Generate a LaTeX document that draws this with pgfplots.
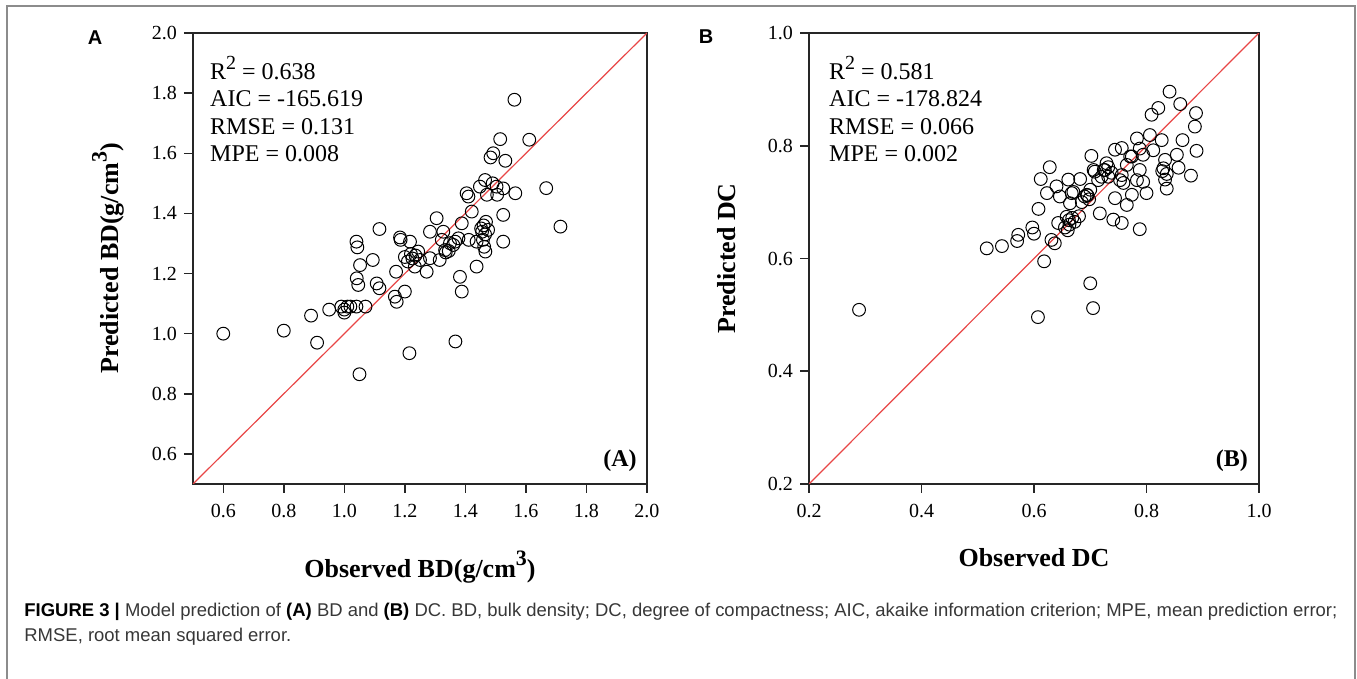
\documentclass[border=0pt]{standalone}
\usepackage{fontspec}
\setmainfont{Liberation Serif}
\newfontfamily\capfont{Liberation Sans}
\usepackage{pgfplots}
\pgfplotsset{compat=1.18}
\definecolor{fitred}{RGB}{232,70,70}
\definecolor{framegray}{RGB}{140,140,140}
\definecolor{captext}{RGB}{55,55,55}
\newsavebox\capboxa
\newlength\capw
\pgfplotsset{
  /pgf/number format/assume math mode=true,
  /pgf/number format/fixed,
  /pgf/number format/fixed zerofill,
  /pgf/number format/precision=1,
  myscatter/.style={
    scale only axis, height=225.5pt,
    axis line style={black!85, line width=0.75pt},
    tick align=outside, tick pos=left,
    major tick length=4.5pt,
    every tick/.style={black!85, line width=0.75pt},
    tick label style={font=\fontsize{10}{12}\selectfont},
    xticklabel style={yshift=-2pt},
    label style={font=\bfseries\fontsize{13}{15}\selectfont},
  },
  circ/.style={only marks, mark=o, mark size=3.2pt, mark options={black, line width=0.5pt}},
  fitline/.style={fitred, line width=0.6pt, no marks},
}
\begin{document}%
\sbox\capboxa{\capfont\fontsize{10}{12}\selectfont \textbf{FIGURE 3 |} Model prediction of \textbf{(A)} BD and \textbf{(B)} DC. BD, bulk density; DC, degree of compactness; AIC, akaike information criterion; MPE, mean prediction error;}%
\setlength\capw{\wd\capboxa}%
\pgfmathsetmacro\capsize{10*656.5/\capw}%
\begin{tikzpicture}[x=0.5pt,y=0.5pt]
\path[use as bounding box] (0,0) rectangle (1357,679);
\draw[framegray, line width=1pt] (7,0) -- (7,673) -- (1355,673) -- (1355,0);

% Panel A
\begin{axis}[myscatter, at={(96.5pt,97.5pt)}, anchor=south west, width=227pt,
  xmin=0.5, xmax=2.0, ymin=0.5, ymax=2.0,
  xtick={0.6,0.8,1.0,1.2,1.4,1.6,1.8,2.0}, ytick={0.6,0.8,1.0,1.2,1.4,1.6,1.8,2.0},
  xlabel={Observed BD(g/cm\raisebox{6pt}{\fontsize{11}{11}\selectfont 3})},
  ylabel={Predicted BD(g/cm\raisebox{6pt}{\fontsize{11}{11}\selectfont 3})},
  xlabel style={at={(axis description cs:0.5,-0.184)}, anchor=center},
  ylabel style={at={(axis description cs:-0.187,0.5)}, anchor=center},
]
\addplot[fitline] coordinates {(0.5,0.5) (2.0,2.0)};
\addplot[circ] coordinates {
(0.60,1.00) (0.80,1.01) (0.91,0.97) (0.89,1.06) (0.95,1.08) (0.99,1.09)
(1.00,1.07) (1.01,1.09) (1.00,1.08) (1.02,1.09) (1.04,1.09) (1.07,1.09)
(1.05,0.865) (1.04,1.306) (1.043,1.287) (1.052,1.228) (1.094,1.245)
(1.041,1.184) (1.046,1.162) (1.116,1.348) (1.107,1.167) (1.116,1.151)
(1.171,1.206) (1.167,1.123) (1.173,1.106) (1.200,1.140) (1.215,0.935)
(1.184,1.320) (1.186,1.312) (1.217,1.306) (1.20,1.255) (1.21,1.24)
(1.22,1.265) (1.225,1.25) (1.235,1.26) (1.244,1.273) (1.250,1.245)
(1.233,1.223) (1.272,1.206) (1.283,1.251) (1.283,1.339) (1.305,1.384)
(1.327,1.339) (1.322,1.312) (1.333,1.278) (1.315,1.245) (1.349,1.301)
(1.366,1.306) (1.377,1.317) (1.388,1.367) (1.382,1.189) (1.388,1.140)
(1.367,0.974) (1.404,1.467) (1.410,1.456) (1.421,1.406) (1.411,1.312)
(1.437,1.223) (1.448,1.489) (1.437,1.306) (1.452,1.350) (1.455,1.339)
(1.458,1.312) (1.462,1.289) (1.466,1.273) (1.468,1.372) (1.475,1.345)
(1.465,1.33) (1.46,1.36) (1.465,1.511) (1.471,1.462) (1.49,1.50)
(1.503,1.489) (1.505,1.462) (1.525,1.483) (1.525,1.306) (1.525,1.395)
(1.483,1.586) (1.492,1.60) (1.515,1.647) (1.532,1.575) (1.565,1.467)
(1.562,1.778) (1.611,1.645) (1.667,1.484) (1.714,1.356)
(1.335,1.27) (1.345,1.275) (1.36,1.295)
};
\node[anchor=base west, inner sep=0, font=\fontsize{12}{12}\selectfont] at (rel axis cs:0.037,0.897) {R\raisebox{5pt}{\fontsize{10}{10}\selectfont 2} = 0.638};
\node[anchor=base west, inner sep=0, font=\fontsize{12}{12}\selectfont] at (rel axis cs:0.037,0.836) {AIC = -165.619};
\node[anchor=base west, inner sep=0, font=\fontsize{12}{12}\selectfont] at (rel axis cs:0.037,0.775) {RMSE = 0.131};
\node[anchor=base west, inner sep=0, font=\fontsize{12}{12}\selectfont] at (rel axis cs:0.037,0.714) {MPE = 0.008};
\node[anchor=base east, inner sep=0, font=\bfseries\fontsize{12}{12}\selectfont] at (rel axis cs:0.978,0.038) {(A)};
\end{axis}

% Panel B
\begin{axis}[myscatter, at={(404.5pt,97.5pt)}, anchor=south west, width=225pt,
  xmin=0.2, xmax=1.0, ymin=0.2, ymax=1.0,
  xtick={0.2,0.4,0.6,0.8,1.0}, ytick={0.2,0.4,0.6,0.8,1.0},
  xlabel={Observed DC},
  ylabel={Predicted DC},
  xlabel style={at={(axis description cs:0.5,-0.163)}, anchor=center},
  ylabel style={at={(axis description cs:-0.182,0.5)}, anchor=center},
]
\addplot[fitline] coordinates {(0.2,0.2) (1.0,1.0)};
\addplot[circ] coordinates {
(0.289,0.509) (0.607,0.496) (0.705,0.512) (0.700,0.556) (0.618,0.595)
(0.516,0.618) (0.543,0.622) (0.570,0.631) (0.572,0.642) (0.597,0.655)
(0.600,0.644) (0.608,0.688) (0.612,0.741) (0.628,0.762) (0.623,0.716)
(0.631,0.633) (0.637,0.627) (0.643,0.663) (0.640,0.728) (0.646,0.710)
(0.661,0.740) (0.664,0.698) (0.670,0.718) (0.682,0.741) (0.655,0.655)
(0.660,0.650) (0.663,0.66) (0.668,0.672) (0.672,0.665) (0.68,0.675)
(0.685,0.700) (0.690,0.710) (0.695,0.712) (0.698,0.705) (0.702,0.782)
(0.708,0.754) (0.717,0.680) (0.720,0.745) (0.726,0.757) (0.732,0.762)
(0.738,0.752) (0.744,0.793) (0.756,0.796) (0.741,0.669) (0.756,0.663)
(0.744,0.707) (0.759,0.734) (0.765,0.695) (0.774,0.713) (0.771,0.781)
(0.765,0.766) (0.774,0.781) (0.783,0.813) (0.788,0.795) (0.794,0.784)
(0.788,0.757) (0.783,0.739) (0.794,0.736) (0.788,0.652) (0.800,0.716)
(0.806,0.819) (0.812,0.792) (0.809,0.855) (0.821,0.867) (0.827,0.810)
(0.833,0.775) (0.830,0.760) (0.836,0.750) (0.833,0.740) (0.836,0.724)
(0.828,0.755) (0.841,0.896) (0.860,0.874) (0.864,0.810) (0.854,0.784)
(0.857,0.761) (0.879,0.747) (0.888,0.858) (0.886,0.834) (0.889,0.791)
(0.753,0.739) (0.756,0.748) (0.729,0.769) (0.724,0.757) (0.732,0.745)
(0.706,0.757) (0.714,0.739) (0.694,0.713) (0.700,0.722) (0.667,0.716)
(0.658,0.674) (0.662,0.668)
};
\node[anchor=base west, inner sep=0, font=\fontsize{12}{12}\selectfont] at (rel axis cs:0.044,0.897) {R\raisebox{5pt}{\fontsize{10}{10}\selectfont 2} = 0.581};
\node[anchor=base west, inner sep=0, font=\fontsize{12}{12}\selectfont] at (rel axis cs:0.044,0.836) {AIC = -178.824};
\node[anchor=base west, inner sep=0, font=\fontsize{12}{12}\selectfont] at (rel axis cs:0.044,0.775) {RMSE = 0.066};
\node[anchor=base west, inner sep=0, font=\fontsize{12}{12}\selectfont] at (rel axis cs:0.044,0.714) {MPE = 0.002};
\node[anchor=base east, inner sep=0, font=\bfseries\fontsize{12}{12}\selectfont] at (rel axis cs:0.976,0.038) {(B)};
\end{axis}

% Panel letters
\node[font=\capfont\bfseries\fontsize{10}{10}\selectfont] at (95,641) {A};
\node[font=\capfont\bfseries\fontsize{10}{10}\selectfont] at (706,642) {B};

% Caption
\node[anchor=base west, inner sep=0, text=captext] at (24,62) {\capfont\fontsize{\capsize}{\capsize}\selectfont \textbf{\color{black}FIGURE 3 |} Model prediction of \textbf{\color{black}(A)} BD and \textbf{\color{black}(B)} DC. BD, bulk density; DC, degree of compactness; AIC, akaike information criterion; MPE, mean prediction error;};
\node[anchor=base west, inner sep=0, text=captext] at (24,37) {\capfont\fontsize{\capsize}{\capsize}\selectfont RMSE, root mean squared error.};
\end{tikzpicture}%
\end{document}
